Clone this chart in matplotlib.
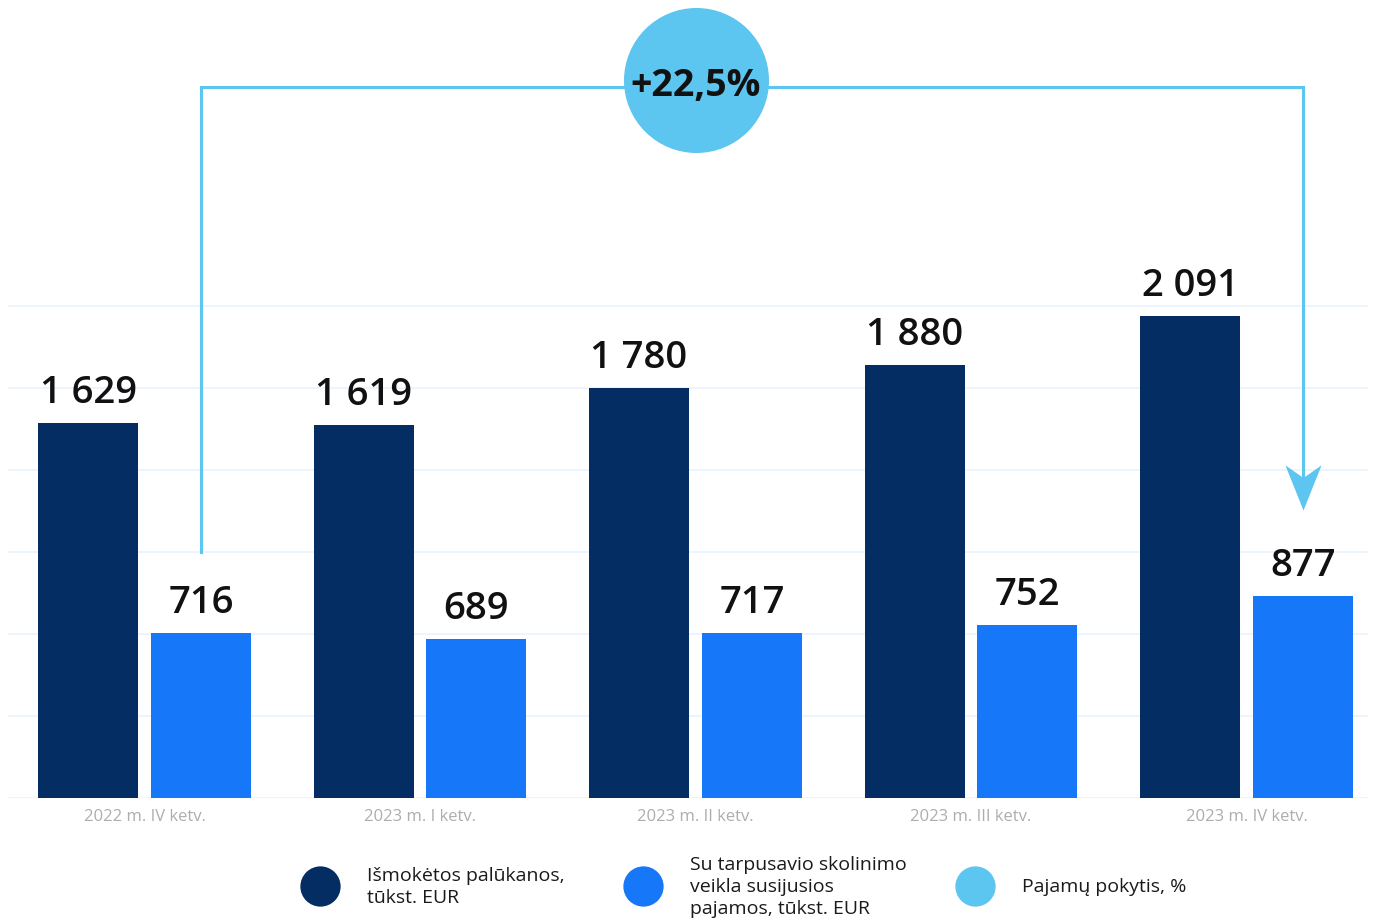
import numpy as np
import matplotlib
matplotlib.use('Agg')
import matplotlib.pyplot as plt
from matplotlib.lines import Line2D

quarters = ['2022 m. IV ketv.', '2023 m. I ketv.', '2023 m. II ketv.',
            '2023 m. III ketv.', '2023 m. IV ketv.']
paid_interest = [1629, 1619, 1780, 1880, 2091]
p2p_income = [716, 689, 717, 752, 877]
change_label = '+22,5%'
legend_labels = ['Išmokėtos palūkanos,\ntūkst. EUR',
                 'Su tarpusavio skolinimo\nveikla susijusios\npajamos, tūkst. EUR',
                 'Pajamų pokytis, %']

dark = '#032d63'
blue = '#1677f9'
light = '#5cc5f0'
grid_c = '#e9f4fd'

plt.rcParams['font.family'] = ['Open Sans', 'DejaVu Sans']

fig = plt.figure(figsize=(13.75, 9.23), dpi=100)
ax = fig.add_axes([8/1375, 125/923, 1360/1375, 798/923])

x = np.arange(len(quarters))
w = 0.363
off = 0.205

for yv in np.arange(1, 7) * 356:
    ax.axhline(yv, color=grid_c, lw=1.2, zorder=0)
ax.axhline(0, color=grid_c, lw=2, zorder=0)

b1 = ax.bar(x - off, paid_interest, w, color=dark, zorder=2)
b2 = ax.bar(x + off, p2p_income, w, color=blue, zorder=2)

def fmt(v):
    return f'{v:,}'.replace(',', ' ')

for bars, vals in ((b1, paid_interest), (b2, p2p_income)):
    for r, v in zip(bars, vals):
        ax.annotate(fmt(v), (r.get_x() + r.get_width() / 2, v),
                    xytext=(0, 14.5), textcoords='offset points',
                    ha='center', va='baseline', fontsize=27.5,
                    fontweight='semibold', color='#111111')

# change bracket from first to last p2p bar
xl, xr = x[0] + off, x[-1] + off
y_low, y_top, y_tip = 1068, 3087, 1250
ax.plot([xl, xl, xr, xr], [y_low, y_top, y_top, y_tip + 150],
        color=light, lw=2.2, zorder=3, solid_joinstyle='miter')
head = [(0, 0), (-0.4, 1), (0, 0.72), (0.4, 1), (0, 0)]
ax.plot([xr], [y_tip], marker=head, markersize=65, color=light,
        markeredgewidth=0, zorder=3)

ax.scatter([2], [3118], s=10900, color=light, zorder=4, linewidths=0)
ax.text(2, 3092, change_label, ha='center', va='center', fontsize=27,
        fontweight='bold', color='#111111', zorder=5)

ax.set_xlim(-0.4955, 4.441)
ax.set_ylim(0, 3465)
ax.set_xticks(x, quarters)
ax.tick_params(axis='x', length=0, pad=8, labelsize=12, labelcolor='#adadad')
ax.set_yticks([])
for s in ax.spines.values():
    s.set_visible(False)

# legend
leg_x = [320, 643, 975]
txt_x = [367, 690, 1022]
for cx, tx, col, lab in zip(leg_x, txt_x, [dark, blue, light], legend_labels):
    fig.add_artist(Line2D([cx / 1375], [37 / 923], marker='o', markersize=29,
                          color=col, markeredgewidth=0,
                          transform=fig.transFigure))
    fig.text(tx / 1375, 36 / 923, lab, ha='left', va='center', fontsize=14,
             color='#1a1a1a', linespacing=1.32)

fig.savefig('out.png', dpi=100)
